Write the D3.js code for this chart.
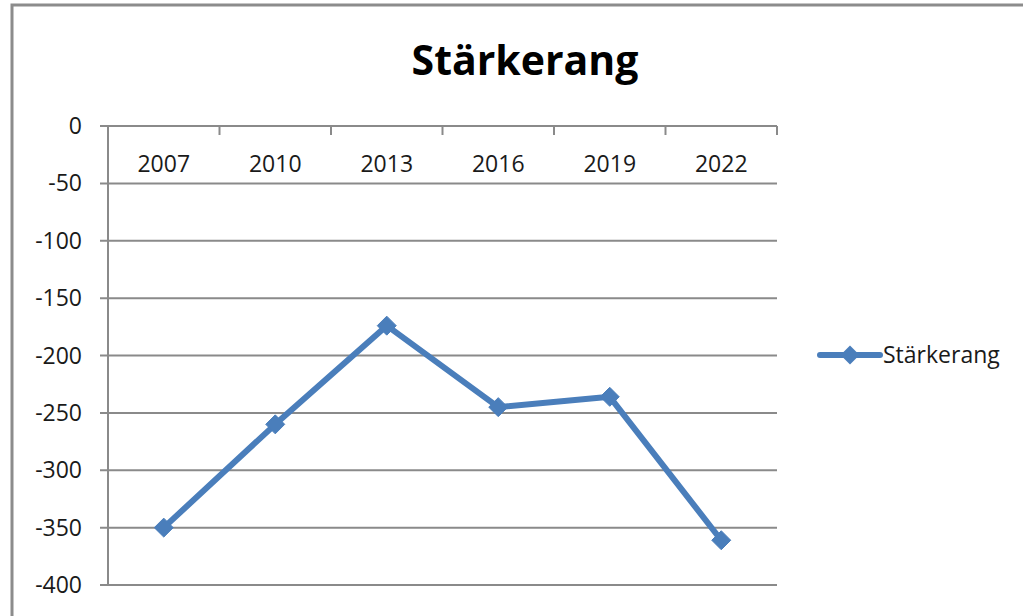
<!DOCTYPE html>
<html lang="de">
<head>
    <meta charset="UTF-8">
    <title>Stärkerang</title>
    <script src="https://cdn.jsdelivr.net/npm/d3@7/dist/d3.min.js"></script>
    <style>
        body { margin: 0; background: #fff; }
        text { font-family: 'Open Sans', 'Liberation Sans', sans-serif; fill: #1a1a1a; }
        .grid line, .axis line, .axis path { stroke: #8a8a8a; stroke-width: 2; }
    </style>
</head>
<body>
    <svg width=1023 height=616></svg>
    <script>
        var years = ['2007', '2010', '2013', '2016', '2019', '2022'],
            values = [-350, -260, -174, -245, -236, -361],
            yTicks = [0, -50, -100, -150, -200, -250, -300, -350, -400],
            seriesName = 'Stärkerang',
            lineColor = '#4a7ebb';

        var svg = d3.select('svg'),
            margin = { top: 126, left: 108 },
            chartWidth = 669,
            chartHeight = 459;

        // frame
        svg.append('path')
            .attr('d', 'M12,620 L12,5 L1030,5')
            .attr('fill', 'none')
            .attr('stroke', '#8c8c8c')
            .attr('stroke-width', 3);

        svg.append('text')
            .attr('x', 525)
            .attr('y', 75)
            .attr('text-anchor', 'middle')
            .style('font-size', '41px')
            .style('font-weight', 'bold')
            .style('fill', '#000')
            .text('Stärkerang');

        var xScale = d3.scaleBand().domain(years).range([0, chartWidth]),
            yScale = d3.scaleLinear().domain([0, -400]).range([0, chartHeight]);

        var chartG = svg.append('g')
            .attr('transform', 'translate(' + [margin.left, margin.top] + ')');

        chartG.append('g')
            .classed('grid', true)
            .selectAll('line')
            .data(yTicks)
            .enter().append('line')
            .attr('x1', -8)
            .attr('x2', chartWidth)
            .attr('y1', function(d) { return yScale(d); })
            .attr('y2', function(d) { return yScale(d); });

        chartG.append('line')
            .attr('x1', 0).attr('x2', 0)
            .attr('y1', 0).attr('y2', chartHeight)
            .attr('stroke', '#8a8a8a')
            .attr('stroke-width', 2);

        chartG.append('g')
            .classed('y-labels', true)
            .selectAll('text')
            .data(yTicks)
            .enter().append('text')
            .attr('x', -26)
            .attr('y', function(d) { return yScale(d); })
            .attr('dy', '0.35em')
            .attr('text-anchor', 'end')
            .style('font-size', '23px')
            .text(function(d) { return d; });

        // category ticks hang from the top axis
        var bounds = years.map(function(d) { return xScale(d); }).concat([chartWidth]);
        chartG.append('g')
            .classed('grid', true)
            .selectAll('line')
            .data(bounds.slice(1))
            .enter().append('line')
            .attr('x1', function(d) { return d; })
            .attr('x2', function(d) { return d; })
            .attr('y1', 0)
            .attr('y2', 9);

        chartG.append('g')
            .selectAll('text')
            .data(years)
            .enter().append('text')
            .attr('x', function(d) { return xScale(d) + xScale.bandwidth() / 2; })
            .attr('y', 46)
            .attr('text-anchor', 'middle')
            .style('font-size', '23px')
            .text(function(d) { return d; });

        var lineG = d3.line()
            .x(function(d, i) { return xScale(years[i]) + xScale.bandwidth() / 2; })
            .y(function(d) { return yScale(d); });

        chartG.append('path')
            .datum(values)
            .attr('d', lineG)
            .attr('fill', 'none')
            .attr('stroke', lineColor)
            .attr('stroke-width', 6)
            .attr('stroke-linejoin', 'round');

        var diamond = d3.symbol().type(d3.symbolDiamond2).size(230);

        chartG.selectAll('.marker')
            .data(values)
            .enter().append('path')
            .classed('marker', true)
            .attr('transform', function(d, i) {
                return 'translate(' + [xScale(years[i]) + xScale.bandwidth() / 2, yScale(d)] + ')';
            })
            .attr('d', diamond)
            .attr('fill', lineColor)
            .attr('stroke', lineColor)
            .attr('stroke-width', 1);

        // legend
        var legendG = svg.append('g').attr('transform', 'translate(820,355)');
        legendG.append('line')
            .attr('x1', 0).attr('x2', 60)
            .attr('stroke', lineColor)
            .attr('stroke-width', 6)
            .attr('stroke-linecap', 'round');
        legendG.append('path')
            .attr('transform', 'translate(30,0)')
            .attr('d', diamond)
            .attr('fill', lineColor);
        legendG.append('text')
            .attr('x', 63)
            .attr('dy', '0.35em')
            .style('font-size', '23px')
            .text(seriesName);
    </script>
</body>
</html>
